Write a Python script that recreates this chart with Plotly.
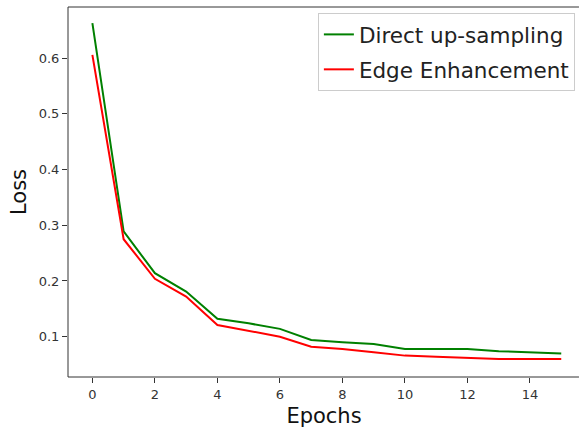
import plotly.graph_objects as go

epochs = list(range(16))
direct_upsampling = [0.663, 0.289, 0.214, 0.181, 0.132, 0.124, 0.114, 0.094,
                     0.090, 0.087, 0.078, 0.078, 0.078, 0.074, 0.072, 0.070]
edge_enhancement = [0.606, 0.275, 0.204, 0.172, 0.121, 0.110, 0.100, 0.082,
                    0.078, 0.072, 0.066, 0.064, 0.062, 0.060, 0.060, 0.060]
x_ticks = [0, 2, 4, 6, 8, 10, 12, 14]
y_ticks = [0.1, 0.2, 0.3, 0.4, 0.5, 0.6]
y_tick_labels = ["0.1", "0.2", "0.3", "0.4", "0.5", "0.6"]

FONT = "DejaVu Sans"

fig = go.Figure()
fig.add_trace(go.Scatter(x=epochs, y=direct_upsampling, mode="lines",
                         name="Direct up-sampling", legendgroup="a",
                         line=dict(color="#008000", width=2)))
fig.add_trace(go.Scatter(x=epochs, y=edge_enhancement, mode="lines",
                         name="Edge Enhancement", legendgroup="b",
                         line=dict(color="#ff0000", width=2)))

spine = dict(color="#333", width=1)
fig.add_shape(type="line", xref="paper", yref="paper", x0=0, x1=0.998, y0=1, y1=1, line=spine)
fig.add_shape(type="line", xref="paper", yref="paper", x0=0, x1=0.998, y0=0, y1=0, line=spine)
fig.add_shape(type="line", xref="paper", yref="paper", x0=0, x1=0, y0=0, y1=1, line=spine)

fig.update_layout(
    width=582, height=430,
    margin=dict(l=68, r=2, t=7, b=53),
    paper_bgcolor="white", plot_bgcolor="white",
    font=dict(family=FONT, color="#222"),
    legend=dict(x=0.99, y=0.984, xanchor="right", yanchor="top",
                bgcolor="white", bordercolor="#cccccc", borderwidth=1,
                font=dict(size=21.5, color="#222"), traceorder="grouped",
                tracegroupgap=4),
    xaxis=dict(range=[-0.78, 15.60], tickvals=x_ticks, showgrid=False,
               zeroline=False, showline=False, mirror=False,
               ticks="outside", ticklen=5, tickcolor="#333",
               tickfont=dict(size=13, color="#333"),
               title=dict(text="Epochs", font=dict(size=21, color="#111"), standoff=7)),
    yaxis=dict(range=[0.0276, 0.692], tickvals=y_ticks, ticktext=y_tick_labels,
               showgrid=False, zeroline=False, showline=False, mirror=False,
               ticks="outside", ticklen=5, tickcolor="#333",
               tickfont=dict(size=13, color="#333"),
               title=dict(text="Loss", font=dict(size=21, color="#111"), standoff=6)),
)

fig.write_html("out.html")
